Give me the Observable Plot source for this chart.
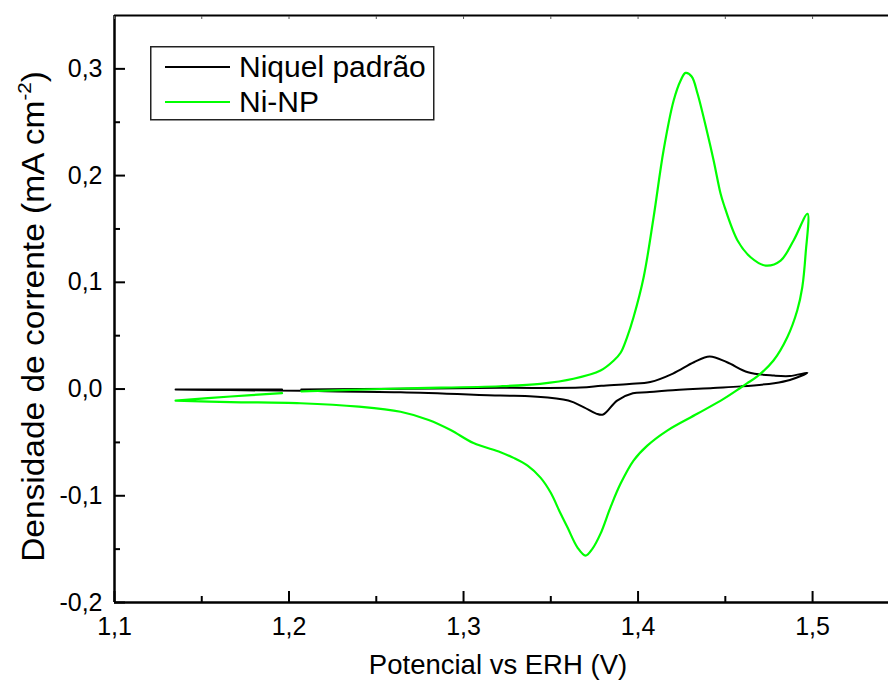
<!DOCTYPE html>
<html><head><meta charset="utf-8">
<script src="https://cdn.jsdelivr.net/npm/d3@7"></script>
<script src="https://cdn.jsdelivr.net/npm/@observablehq/plot@0.6"></script>
<style>
body{margin:0;background:#fff;font-family:Arial,"Liberation Sans",sans-serif;}
#wrap{position:relative;width:888px;height:686px;}
#legend{position:absolute;left:150px;top:46px;}
</style></head><body><div id="wrap"></div>
<script>
const series = ["Niquel padrão", "Ni-NP"];
const colors = ["#000000", "#00ff00"];

// Niquel padrão: forward (anodic) scan then reverse (cathodic) scan
const niquelE = [1.135, 1.166, 1.196, NaN, 1.207, 1.264, 1.321, 1.367, 1.379, 1.395, 1.407, 1.420, 1.432, 1.441, 1.451, 1.463, 1.478, 1.487, 1.497,
  1.487, 1.478, 1.459, 1.443, 1.417, 1.405, 1.397, 1.388, 1.380, 1.376, 1.369, 1.360, 1.340, 1.321, 1.264, 1.207, 1.166, 1.135];
const niquelJ = [-0.0005, -0.0005, -0.0005, NaN, -0.0004, 0.0002, 0.0011, 0.0014, 0.0030, 0.0048, 0.0066, 0.0145, 0.0251, 0.0305, 0.0251, 0.0157, 0.0126, 0.0122, 0.0152,
  0.0085, 0.0055, 0.0025, 0.0010, -0.0014, -0.0030, -0.0040, -0.0108, -0.0239, -0.0230, -0.0171, -0.0108, -0.0070, -0.0061, -0.0030, -0.0017, -0.0010, -0.0005];

// Ni-NP: forward (anodic) scan then reverse (cathodic) scan
const nanoE = [1.135, 1.1665, 1.196, NaN, 1.207, 1.264, 1.321, 1.344, 1.363, 1.3785, 1.3861, 1.3900, 1.3937, 1.3974, 1.4032, 1.4089, 1.4146, 1.4204, 1.4244, 1.4272, 1.4307, 1.4341, 1.4398, 1.4433, 1.4473, 1.4490, 1.4570, 1.4645, 1.4731, 1.4817, 1.4891, 1.4971,
  1.4960, 1.4941, 1.4912, 1.4855, 1.4776, 1.4683, 1.4626, 1.4587, 1.4490, 1.4339, 1.4167, 1.4053, 1.3974, 1.3900, 1.3842, 1.3785, 1.3739, 1.3699, 1.3653, 1.3596, 1.3556, 1.3499, 1.3441, 1.3367, 1.3287, 1.3212, 1.3057, 1.2926, 1.2800, 1.2639, 1.2400, 1.2066, 1.1665, 1.135];
const nanoJ = [-0.0108, -0.0070, -0.0039, NaN, -0.0021, 0.0005, 0.0026, 0.0049, 0.0096, 0.0173, 0.0267, 0.0340, 0.0485, 0.0673, 0.1048, 0.1610, 0.2235, 0.2703, 0.2891, 0.2962, 0.2929, 0.2767, 0.2392, 0.2142, 0.1829, 0.1736, 0.1392, 0.1235, 0.1157, 0.1204, 0.1392, 0.1642,
  0.1267, 0.0954, 0.0736, 0.0485, 0.0267, 0.0118, 0.0055, 0.0012, -0.0092, -0.0232, -0.0389, -0.0530, -0.0670, -0.0886, -0.1108, -0.1355, -0.1495, -0.1560, -0.1485, -0.1298, -0.1167, -0.0970, -0.0830, -0.0718, -0.0645, -0.0592, -0.0506, -0.0384, -0.0290, -0.0213, -0.0165, -0.0133, -0.0122, -0.0108];

const xTicks = [1.1, 1.2, 1.3, 1.4, 1.5];
const xMinor = [1.15, 1.25, 1.35, 1.45];
const yTicks = [-0.2, -0.1, 0.0, 0.1, 0.2, 0.3];
const yMinor = [-0.15, -0.05, 0.05, 0.15, 0.25];
const xLabel = "Potencial vs ERH (V)";
const yLabelMain = "Densidade de corrente (mA cm";
const yLabelSup = "-2";
const yLabelEnd = ")";

const rows = [];
niquelE.forEach((e, i) => rows.push({E: e, j: niquelJ[i], s: series[0]}));
nanoE.forEach((e, i) => rows.push({E: e, j: nanoJ[i], s: series[1]}));

const fmt = d => d3.format(".1f")(d).replace(".", ",").replace("−", "-");
const FONT = "Arial, 'Liberation Sans', sans-serif";

const W = 888, H = 686, mL = 114, mT = 15, mB = 84;
const chart = Plot.plot({
  width: W, height: H, marginLeft: mL, marginRight: 0, marginTop: mT, marginBottom: mB,
  x: {domain: [1.1, 1.5435]},
  y: {domain: [-0.2, 0.35]},
  color: {domain: series, range: colors},
  style: {fontFamily: FONT, background: "#fff", color: "#000", overflow: "visible"},
  marks: [
    Plot.line(rows.filter(r => r.s === series[0]), {x: "E", y: "j", stroke: "s", strokeWidth: 2, curve: "catmull-rom"}),
    Plot.line(rows.filter(r => r.s === series[1]), {x: "E", y: "j", stroke: "s", strokeWidth: 2.2, curve: "catmull-rom"}),
    Plot.ruleX([1.1], {stroke: "#000", strokeWidth: 2.5}),
    Plot.ruleY([-0.2], {stroke: "#000", strokeWidth: 2.5}),
    Plot.ruleY([0.35], {stroke: "#000", strokeWidth: 2}),
    Plot.axisY(yTicks, {tickSize: -11, tickFormat: () => "", strokeWidth: 2, label: null}),
    Plot.axisY(yMinor, {tickSize: -6, tickFormat: () => "", strokeWidth: 2, label: null}),
    Plot.axisY(yTicks, {tickSize: 0, tickPadding: 12, tickFormat: fmt, fontSize: 25, label: null}),
    Plot.axisX(xTicks, {tickSize: -11, tickFormat: () => "", strokeWidth: 2, label: null}),
    Plot.axisX(xMinor, {tickSize: -6, tickFormat: () => "", strokeWidth: 2, label: null}),
    Plot.axisX(xTicks, {tickSize: 0, tickPadding: 15, tickFormat: fmt, fontSize: 25, label: null}),
    Plot.axisX([...xTicks, ...xMinor], {anchor: "top", tickSize: -3, tickFormat: () => "", strokeWidth: 1, stroke: "#555", label: null})
  ]
});
const wrap = document.getElementById("wrap");
wrap.appendChild(chart);

const svg = d3.select(chart);
svg.append("text")
  .attr("x", mL + (W - mL) / 2 - 3).attr("y", 674)
  .attr("text-anchor", "middle").attr("font-size", 27.5).attr("font-family", FONT).attr("fill", "#000")
  .text(xLabel);
const yt = svg.append("text")
  .attr("transform", `translate(44, ${(mT + (H - mB)) / 2 + 8}) rotate(-90) scale(1.08,1)`)
  .attr("text-anchor", "middle").attr("font-size", 31).attr("font-family", FONT).attr("fill", "#000");
yt.append("tspan").text(yLabelMain);
yt.append("tspan").attr("font-size", 19).attr("dy", -13).text(yLabelSup);
yt.append("tspan").attr("dy", 13).text(yLabelEnd);

// legend
const lg = d3.select(wrap).append("svg").attr("id", "legend").attr("width", 285).attr("height", 75);
lg.append("rect").attr("x", 0.75).attr("y", 0.75).attr("width", 283).attr("height", 73)
  .attr("fill", "#fff").attr("stroke", "#222").attr("stroke-width", 1.5);
series.forEach((s, i) => {
  const cy = 21 + i * 35;
  lg.append("line").attr("x1", 15).attr("x2", 80).attr("y1", cy).attr("y2", cy)
    .attr("stroke", colors[i]).attr("stroke-width", 2);
  lg.append("text").attr("x", 89).attr("y", cy + 10).attr("font-size", 30).attr("font-family", FONT)
    .attr("fill", "#000").text(s);
});
</script></body></html>
